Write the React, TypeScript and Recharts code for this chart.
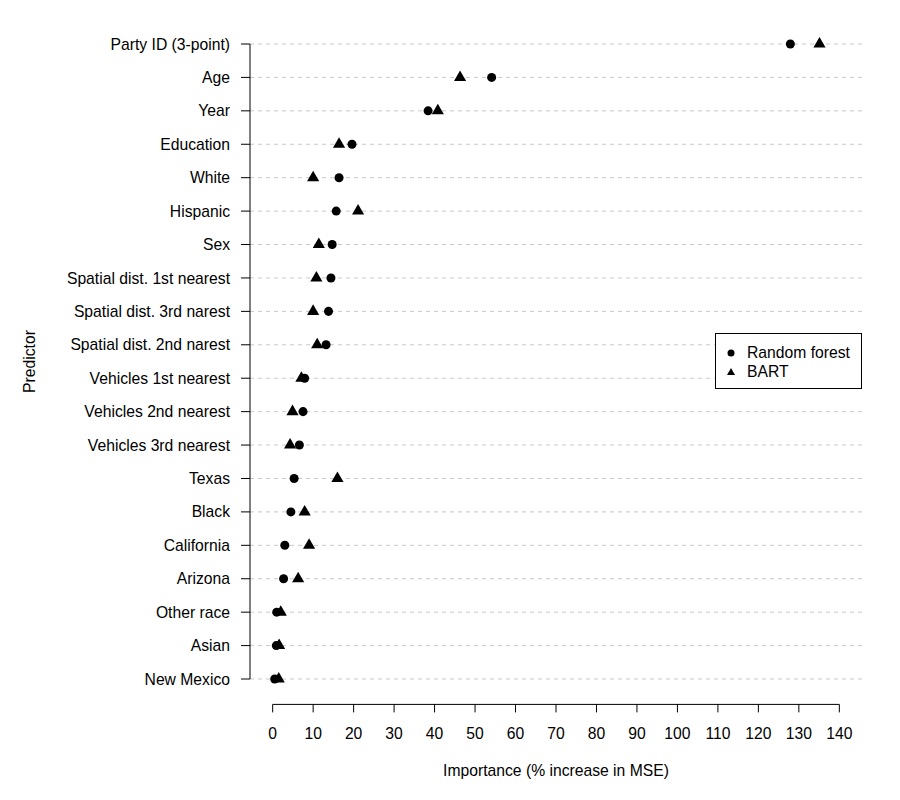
import React from 'react';
import {
  ScatterChart,
  Scatter,
  XAxis,
  YAxis,
  ZAxis,
  ReferenceLine,
  Legend,
  Label,
} from 'recharts';

const predictors = [
  'Party ID (3-point)',
  'Age',
  'Year',
  'Education',
  'White',
  'Hispanic',
  'Sex',
  'Spatial dist. 1st nearest',
  'Spatial dist. 3rd narest',
  'Spatial dist. 2nd narest',
  'Vehicles 1st nearest',
  'Vehicles 2nd nearest',
  'Vehicles 3rd nearest',
  'Texas',
  'Black',
  'California',
  'Arizona',
  'Other race',
  'Asian',
  'New Mexico',
];

const randomForest = [127.9, 54.1, 38.4, 19.6, 16.4, 15.7, 14.7, 14.4, 13.8, 13.2, 7.9, 7.5, 6.6, 5.3, 4.5, 3.0, 2.7, 1.0, 0.9, 0.5];
const bart = [135.1, 46.3, 40.8, 16.4, 10.0, 21.1, 11.4, 10.8, 10.0, 11.0, 7.1, 4.9, 4.3, 16.0, 7.9, 9.0, 6.3, 2.0, 1.6, 1.5];

const xTicks = [0, 10, 20, 30, 40, 50, 60, 70, 80, 90, 100, 110, 120, 130, 140];
const xDomain = [-5.6, 145.6];
const rowDomain = [-0.76, 19.76];
const rowTicks = predictors.map((_, i) => i);

const rfData = predictors.map((name, i) => ({ name, row: i, value: randomForest[i] }));
const bartData = predictors.map((name, i) => ({ name, row: i, value: bart[i] }));

const FONT = '"Liberation Sans", Arial, Helvetica, sans-serif';
const FS = 15.7;

const renderLegend = () => (
  <div
    style={{
      position: 'relative',
      width: 145,
      height: 54,
      border: '1px solid #000',
      background: '#fff',
      fontFamily: FONT,
      fontSize: FS,
      color: '#000',
    }}
  >
    <svg width={14} height={14} style={{ position: 'absolute', left: 8, top: 12 }}>
      <circle cx={7} cy={7} r={3.5} fill="#000" />
    </svg>
    <span style={{ position: 'absolute', left: 31, top: 10, lineHeight: '18px', whiteSpace: 'nowrap' }}>Random forest</span>
    <svg width={14} height={14} style={{ position: 'absolute', left: 8, top: 31 }}>
      <polygon points="7,3 11,10 3,10" fill="#000" />
    </svg>
    <span style={{ position: 'absolute', left: 31, top: 29, lineHeight: '18px', whiteSpace: 'nowrap' }}>BART</span>
  </div>
);

const XLabel = (props: any) => {
  const vb = props.viewBox || { x: 250, y: 704.4, width: 612, height: 80 };
  return (
    <text x={vb.x + vb.width / 2} y={vb.y + 71.6} textAnchor="middle" fill="#000" fontSize={FS}>
      Importance (% increase in MSE)
    </text>
  );
};

const YLabel = (props: any) => {
  const vb = props.viewBox || { x: 10, y: 18.6, width: 240, height: 685.8 };
  const x = vb.x + 25;
  const y = vb.y + vb.height / 2;
  return (
    <text x={x} y={y} textAnchor="middle" fill="#000" fontSize={FS} transform={`rotate(-90 ${x} ${y})`}>
      Predictor
    </text>
  );
};

export default function App() {
  return (
    <div style={{ position: 'absolute', left: 0, top: 0, width: 900, height: 800, background: '#fff', fontFamily: FONT }}>
      <ScatterChart width={900} height={800} margin={{ top: 18.6, right: 38, bottom: 15.6, left: 10 }}>
        <XAxis
          type="number"
          dataKey="value"
          domain={xDomain}
          ticks={xTicks}
          interval={0}
          allowDataOverflow
          height={80}
          axisLine={false}
          tickLine={{ stroke: '#000' }}
          tickSize={8}
          tickMargin={15}
          tick={{ fill: '#000', fontSize: FS }}
        >
          <Label content={<XLabel />} />
        </XAxis>
        <YAxis
          type="number"
          dataKey="row"
          domain={rowDomain}
          ticks={rowTicks}
          interval={0}
          reversed
          allowDataOverflow
          width={240}
          axisLine={false}
          tickLine={{ stroke: '#000' }}
          tickSize={9}
          tickMargin={11}
          tick={{ fill: '#000', fontSize: FS }}
          tickFormatter={(v: number) => predictors[v] ?? ''}
        >
          <Label content={<YLabel />} />
        </YAxis>
        <ZAxis zAxisId="rf" range={[38, 38]} />
        <ZAxis zAxisId="bt" range={[30, 30]} />
        <Scatter name="Random forest" data={rfData} zAxisId="rf" fill="#000" shape="circle" isAnimationActive={false} />
        <Scatter name="BART" data={bartData} zAxisId="bt" fill="#000" shape="triangle" isAnimationActive={false} />
        {rowTicks.map((r) => (
          <ReferenceLine key={`g${r}`} y={r} stroke="#c8c8c8" strokeDasharray="4 4" />
        ))}
        <ReferenceLine
          segment={[{ x: xDomain[0], y: 0 }, { x: xDomain[0], y: predictors.length - 1 }]}
          stroke="#000"
          ifOverflow="visible"
        />
        <ReferenceLine
          segment={[{ x: xTicks[0], y: rowDomain[1] }, { x: xTicks[xTicks.length - 1], y: rowDomain[1] }]}
          stroke="#000"
          ifOverflow="visible"
        />
        <Legend
          layout="horizontal"
          align="center"
          verticalAlign="middle"
          content={renderLegend}
          wrapperStyle={{ left: 715, top: 333, width: 147, height: 56 }}
        />
      </ScatterChart>
    </div>
  );
}
